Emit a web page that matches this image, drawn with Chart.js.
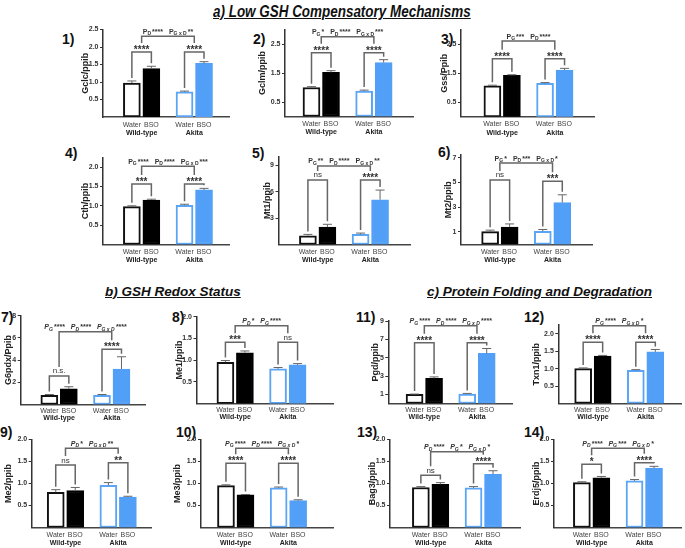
<!DOCTYPE html>
<html>
<head>
<meta charset="utf-8">
<script src="https://cdn.jsdelivr.net/npm/chart.js@4.4.1/dist/chart.umd.min.js"></script>
<style>
  body { margin: 0; background: #fff; }
  #page { position: relative; width: 685px; height: 548px; overflow: hidden; font-family: 'Liberation Sans', Arial, sans-serif; }
  #page canvas { position: absolute; left: 0; top: 0; }
  .head { position: absolute; font-weight: bold; font-style: italic; text-decoration: underline; white-space: nowrap; color: #111; line-height: 1; }
  .num { position: absolute; font-weight: bold; font-size: 14px; color: #111; line-height: 1; }
</style>
</head>
<body>
<div id="page">
  <div class="head" style="left:213px;top:4px;font-size:16px;transform:scaleX(0.84);transform-origin:0 0;">a) Low GSH Compensatory Mechanisms</div>
  <div class="head" style="left:105px;top:285px;font-size:13.5px;">b) GSH Redox Status</div>
  <div class="head" style="left:427px;top:285px;font-size:13.5px;">c) Protein Folding and Degradation</div>
  <div class="num" style="left:62px;top:32px;">1)</div>
  <div class="num" style="left:253px;top:32px;">2)</div>
  <div class="num" style="left:441px;top:32px;">3)</div>
  <div class="num" style="left:65px;top:146px;">4)</div>
  <div class="num" style="left:252px;top:146px;">5)</div>
  <div class="num" style="left:438px;top:145px;">6)</div>
  <div class="num" style="left:1px;top:310px;">7)</div>
  <div class="num" style="left:172px;top:310px;">8)</div>
  <div class="num" style="left:356px;top:310px;">11)</div>
  <div class="num" style="left:524px;top:310px;">12)</div>
  <div class="num" style="left:0px;top:425px;">9)</div>
  <div class="num" style="left:176px;top:425px;">10)</div>
  <div class="num" style="left:357px;top:425px;">13)</div>
  <div class="num" style="left:524px;top:425px;">14)</div>
</div>
<script>
// groups and treatments, same order in every panel
const treatments = ['Water', 'BSO', 'Water', 'BSO'];
const genotypes = ['Wild-type', 'Akita'];

// 1) Gclc
const gclcMean = [0.97, 1.38, 0.72, 1.53];
const gclcSem = [0.06, 0.07, 0.02, 0.05];
const gclcTicks = ['0.5', '1.0', '1.5', '2.0', '2.5'];
const gclcStars = ['****', '****'];
const gclcP = [['D', '****'], ['G x D', '**']];

// 2) Gclm
const gclmMean = [1.00, 1.52, 0.88, 1.86];
const gclmSem = [0.03, 0.06, 0.03, 0.10];
const gclmTicks = ['0.5', '1.5', '2.5'];
const gclmStars = ['****', '****'];
const gclmP = [['G', '*'], ['D', '****'], ['G x D', '***']];

// 3) Gss
const gssMean = [1.07, 1.43, 1.15, 1.61];
const gssSem = [0.02, 0.02, 0.03, 0.06];
const gssTicks = ['0.5', '1.5', '2.5'];
const gssStars = ['****', '****'];
const gssP = [['G', '***'], ['D', '****']];

// 4) Cth
const cthMean = [0.98, 1.15, 1.01, 1.41];
const cthSem = [0.02, 0.02, 0.03, 0.04];
const cthTicks = ['0.5', '1.0', '1.5', '2.0'];
const cthStars = ['***', '****'];
const cthP = [['G', '****'], ['D', '****'], ['G x D', '***']];

// 5) Mt1
const mt1Mean = [1.00, 1.98, 1.15, 5.10];
const mt1Sem = [0.15, 0.32, 0.15, 1.10];
const mt1Ticks = ['3', '6', '9'];
const mt1Stars = ['ns', '****'];
const mt1P = [['G', '**'], ['D', '****'], ['G x D', '**']];

// 6) Mt2
const mt2Mean = [1.03, 1.40, 1.06, 3.37];
const mt2Sem = [0.12, 0.25, 0.14, 0.63];
const mt2Ticks = ['1', '3', '5', '7'];
const mt2Stars = ['ns', '***'];
const mt2P = [['G', '*'], ['D', '***'], ['G x D', '*']];

// 7) G6pdx
const g6pdxMean = [0.83, 1.42, 0.83, 3.20];
const g6pdxSem = [0.07, 0.18, 0.07, 1.10];
const g6pdxTicks = ['2', '4', '6', '8'];
const g6pdxStars = ['n.s.', '****'];
const g6pdxP = [['G', '****'], ['D', '****'], ['G x D', '****']];

// 8) Me1
const me1Mean = [0.95, 1.17, 0.80, 0.89];
const me1Sem = [0.04, 0.04, 0.03, 0.03];
const me1Ticks = ['0.5', '1.0', '1.5', '2.0'];
const me1Stars = ['***', 'ns'];
const me1P = [['D', '*'], ['G', '****']];

// 9) Me2
const me2Mean = [0.80, 0.84, 0.96, 0.69];
const me2Sem = [0.06, 0.07, 0.06, 0.02];
const me2Ticks = ['0.5', '1.0', '1.5', '2.0'];
const me2Stars = ['ns', '**'];
const me2P = [['D', '*'], ['G x D', '**']];

// 10) Me3
const me3Mean = [0.95, 0.74, 0.90, 0.61];
const me3Sem = [0.02, 0.01, 0.02, 0.02];
const me3Ticks = ['0.5', '1.0', '1.5', '2.0'];
const me3Stars = ['****', '****'];
const me3P = [['G', '****'], ['D', '****'], ['G x D', '*']];

// 11) Pgd
const pgdMean = [1.00, 2.75, 1.04, 5.47];
const pgdSem = [0.03, 0.15, 0.06, 0.53];
const pgdTicks = ['1', '3', '5', '7', '9'];
const pgdStars = ['****', '****'];
const pgdP = [['G', '****'], ['D', '****'], ['G x D', '****']];

// 12) Txn1
const txn1Mean = [1.00, 1.36, 0.95, 1.48];
const txn1Sem = [0.02, 0.02, 0.02, 0.07];
const txn1Ticks = ['0.5', '1.0', '1.5', '2.0'];
const txn1Stars = ['****', '****'];
const txn1P = [['G', '****'], ['G x D', '*']];

// 13) Bag3
const bag3Mean = [0.91, 0.98, 0.90, 1.21];
const bag3Sem = [0.02, 0.04, 0.03, 0.08];
const bag3Ticks = ['0.5', '1.0', '1.5', '2.0'];
const bag3Stars = ['ns', '****'];
const bag3P = [['D', '****'], ['G', '*'], ['G x D', '*']];

// 14) Erdj5
const erdj5Mean = [1.02, 1.13, 1.06, 1.35];
const erdj5Sem = [0.02, 0.03, 0.03, 0.04];
const erdj5Ticks = ['0.5', '1.0', '1.5', '2.0'];
const erdj5Stars = ['*', '****'];
const erdj5P = [['D', '****'], ['G', '***'], ['G x D', '*']];

const FONT = "'Liberation Sans', Arial, sans-serif";
const W = 685, H = 548;
const STEP = 26;       // px between the two bars of a group
const GAP = 1.7;       // distance between groups, in bar steps
const XH = 20;         // room kept under the x axis for its labels
const xPos = [1, 2, 2 + GAP, 3 + GAP];
const fills = ['#ffffff', '#000000', '#ffffff', '#529ff7'];
const edges = ['#111111', '#000000', '#5aa5f5', '#529ff7'];

// box = [axis x, pixel of yMax, right end of x axis, baseline]
// sub / top = bracket heights in data units, ylab = offset of y title from the axis
const panels = [
  { name: 'Gclc/ppib', mean: gclcMean, sem: gclcSem, ticks: gclcTicks, stars: gclcStars, p: gclcP, yMax: 2.5,
    box: [103, 29.5, 229, 117], c0: 120.5, ylab: 17, sub: [1.86, 1.86], top: 2.31, lab: [7.5, 16], it: false },
  { name: 'Gclm/ppib', mean: gclmMean, sem: gclmSem, ticks: gclmTicks, stars: gclmStars, p: gclmP, yMax: 3,
    box: [285, 29.5, 413, 116.5], c0: 299, ylab: 22, sub: [2.2, 2.2], top: 2.75, lab: [7.5, 16], it: false },
  { name: 'Gss/Ppib', mean: gssMean, sem: gssSem, ticks: gssTicks, stars: gssStars, p: gssP, yMax: 3,
    box: [461, 29.8, 594, 116.8], c0: 480.7, ylab: 16, sub: [2.0, 2.0], top: 2.61, lab: [7.5, 16], it: false },
  { name: 'Cth/ppib', mean: cthMean, sem: cthSem, ticks: cthTicks, stars: cthStars, p: cthP, yMax: 2.25,
    box: [103, 157.4, 229, 244.5], c0: 120.5, ylab: 17, sub: [1.56, 1.56], top: 2.02, lab: [7.5, 15.5], it: false },
  { name: 'Mt1/ppib', mean: mt1Mean, sem: mt1Sem, ticks: mt1Ticks, stars: mt1Stars, p: mt1P, yMax: 10,
    box: [278.5, 156.7, 410, 244.5], c0: 295.8, ylab: 11, sub: [7.35, 7.35], top: 8.95, lab: [7.5, 15.5], it: false },
  { name: 'Mt2/ppib', mean: mt2Mean, sem: mt2Sem, ticks: mt2Ticks, stars: mt2Stars, p: mt2P, yMax: 7.2,
    box: [461, 155.1, 592, 244.4], c0: 478, ylab: 12, sub: [5.2, 5.1], top: 6.56, lab: [7.5, 15.5], it: false },
  { name: 'G6pdx/Ppib', mean: g6pdxMean, sem: g6pdxSem, ticks: g6pdxTicks, stars: g6pdxStars, p: g6pdxP, yMax: 8,
    box: [20.7, 315.7, 146, 404.5], c0: 38, ylab: 12, sub: [2.57, 4.97], top: 6.56, lab: [6.5, 13.5], it: true },
  { name: 'Me1/ppib', mean: me1Mean, sem: me1Sem, ticks: me1Ticks, stars: me1Stars, p: me1P, yMax: 2,
    box: [196.5, 316.6, 333, 403.6], c0: 212.3, ylab: 16.5, sub: [1.41, 1.41], top: 1.79, lab: [6.5, 13.5], it: true },
  { name: 'Pgd/ppib', mean: pgdMean, sem: pgdSem, ticks: pgdTicks, stars: pgdStars, p: pgdP, yMax: 9,
    box: [388.3, 321, 512, 403.5], c0: 402.7, ylab: 13, sub: [6.63, 6.63], top: 8.48, lab: [6.5, 13.5], it: true },
  { name: 'Txn1/ppib', mean: txn1Mean, sem: txn1Sem, ticks: txn1Ticks, stars: txn1Stars, p: txn1P, yMax: 2.25,
    box: [558.3, 325.1, 681, 403.4], c0: 571, ylab: 21.6, sub: [1.76, 1.76], top: 2.23, lab: [6.5, 13.5], it: true },
  { name: 'Me2/ppib', mean: me2Mean, sem: me2Sem, ticks: me2Ticks, stars: me2Stars, p: me2P, yMax: 2,
    box: [31.7, 439.5, 152, 527.5], c0: 43.7, ylab: 23, sub: [1.42, 1.47], top: 1.8, lab: [7.5, 16], it: true },
  { name: 'Me3/ppib', mean: me3Mean, sem: me3Sem, ticks: me3Ticks, stars: me3Stars, p: me3P, yMax: 2,
    box: [201, 439.5, 333, 527.5], c0: 212.3, ylab: 23, sub: [1.46, 1.46], top: 1.8, lab: [7.5, 16], it: true },
  { name: 'Bag3/ppib', mean: bag3Mean, sem: bag3Sem, ticks: bag3Ticks, stars: bag3Stars, p: bag3P, yMax: 2,
    box: [390, 439.5, 520, 527.5], c0: 409.5, ylab: 17, sub: [1.19, 1.45], top: 1.72, lab: [7.5, 16], it: true },
  { name: 'Erdj5/ppib', mean: erdj5Mean, sem: erdj5Sem, ticks: erdj5Ticks, stars: erdj5Stars, p: erdj5P, yMax: 2,
    box: [554, 439.5, 681, 527.5], c0: 570, ylab: 17, sub: [1.44, 1.47], top: 1.8, lab: [7.5, 16], it: true }
];

// P_x**** labels above the long bracket
function drawPText(ctx, terms, cx, y, italic) {
  const st = italic ? 'italic ' : '';
  const big = st + 'bold 7px ' + FONT, small = st + 'bold 5px ' + FONT;
  const gap = 6;
  const widths = terms.map(t => {
    ctx.font = big; const a = ctx.measureText('P').width + ctx.measureText(t[1]).width;
    ctx.font = small; return a + ctx.measureText(t[0]).width + 1;
  });
  let x = cx - (widths.reduce((s, w) => s + w, 0) + gap * (terms.length - 1)) / 2;
  ctx.textAlign = 'left'; ctx.textBaseline = 'alphabetic'; ctx.fillStyle = '#333';
  terms.forEach(t => {
    ctx.font = big; ctx.fillText('P', x, y); x += ctx.measureText('P').width;
    ctx.font = small; ctx.fillText(t[0], x, y + 1.5); x += ctx.measureText(t[0]).width + 1;
    ctx.font = big; ctx.fillText(t[1], x, y); x += ctx.measureText(t[1]).width + gap;
  });
}

function drawMark(ctx, text, cx, yLine) {
  ctx.textAlign = 'center'; ctx.textBaseline = 'alphabetic'; ctx.fillStyle = '#333';
  if (text.indexOf('*') >= 0) {
    ctx.font = 'bold 10px ' + FONT; ctx.fillText(text, cx, yLine + 1);
  } else {
    ctx.font = '8px ' + FONT; ctx.fillText(text, cx, yLine - 2.5);
  }
}

function extras(p) {
  return {
    id: 'panelExtras',
    afterDatasetsDraw(chart) {
      const ctx = chart.ctx, y = chart.scales.y;
      const bars = chart.getDatasetMeta(0).data;
      ctx.save();
      ctx.strokeStyle = '#666'; ctx.lineWidth = 1;
      bars.forEach((b, i) => {
        const yt = y.getPixelForValue(p.mean[i] + p.sem[i]);
        ctx.beginPath();
        ctx.moveTo(b.x, b.y); ctx.lineTo(b.x, yt);
        ctx.moveTo(b.x - 4.5, yt); ctx.lineTo(b.x + 4.5, yt);
        ctx.stroke();
      });
      ctx.restore();
    },
    afterDraw(chart) {
      const ctx = chart.ctx, y = chart.scales.y;
      const bars = chart.getDatasetMeta(0).data;
      const base = chart.chartArea.bottom;
      ctx.save();
      // group names under the axis
      ctx.font = 'bold 7px ' + FONT; ctx.fillStyle = '#222';
      ctx.textAlign = 'center'; ctx.textBaseline = 'middle';
      genotypes.forEach((g, k) => ctx.fillText(g, (bars[2 * k].x + bars[2 * k + 1].x) / 2, base + p.lab[1]));
      // pairwise brackets
      ctx.strokeStyle = '#666'; ctx.lineWidth = 1.5;
      const subY = [];
      [0, 1].forEach(k => {
        const a = bars[2 * k], b = bars[2 * k + 1];
        const yl = y.getPixelForValue(p.sub[k]);
        subY.push(yl);
        ctx.beginPath();
        ctx.moveTo(a.x, y.getPixelForValue(p.mean[2 * k] + p.sem[2 * k]) - 3);
        ctx.lineTo(a.x, yl); ctx.lineTo(b.x, yl);
        ctx.lineTo(b.x, y.getPixelForValue(p.mean[2 * k + 1] + p.sem[2 * k + 1]) - 3);
        ctx.stroke();
        drawMark(ctx, p.stars[k], (a.x + b.x) / 2, yl);
      });
      // genotype x drug bracket
      const x1 = (bars[0].x + bars[1].x) / 2, x2 = (bars[2].x + bars[3].x) / 2;
      const yt = y.getPixelForValue(p.top);
      ctx.beginPath();
      ctx.moveTo(x1, subY[0] - 9); ctx.lineTo(x1, yt); ctx.lineTo(x2, yt); ctx.lineTo(x2, subY[1] - 9);
      ctx.stroke();
      drawPText(ctx, p.p, (x1 + x2) / 2, yt - 2.5, p.it);
      ctx.restore();
    }
  };
}

const page = document.getElementById('page');

panels.forEach(p => {
  const [axisX, topY, rightX, baseY] = p.box;
  const yW = p.ylab + 5.4;
  const canvas = document.createElement('canvas');
  canvas.width = W; canvas.height = H;
  page.appendChild(canvas);
  new Chart(canvas, {
    type: 'bar',
    data: {
      datasets: [{
        data: p.mean.map((m, i) => ({ x: xPos[i], y: m })),
        backgroundColor: fills,
        borderColor: edges,
        borderWidth: 2,
        borderSkipped: false,
        barThickness: 17
      }]
    },
    options: {
      responsive: false,
      animation: false,
      events: [],
      layout: { padding: { left: axisX - yW, top: topY, right: W - rightX, bottom: H - baseY - XH } },
      plugins: { legend: { display: false }, tooltip: { enabled: false } },
      scales: {
        x: {
          type: 'linear',
          min: 1 - (p.c0 - axisX) / STEP,
          max: 1 + (rightX - p.c0) / STEP,
          afterBuildTicks: s => { s.ticks = xPos.map(v => ({ value: v })); },
          afterFit: s => { s.height = XH; },
          grid: { display: false, drawTicks: false },
          border: { color: '#444', width: 1.5 },
          ticks: {
            autoSkip: false, maxRotation: 0, padding: p.lab[0] - 4,
            callback: (v, i) => treatments[i],
            font: { size: 7, family: FONT }, color: '#444'
          }
        },
        y: {
          min: 0,
          max: p.yMax,
          afterBuildTicks: s => { s.ticks = p.ticks.map(t => ({ value: Number(t) })); },
          afterFit: s => { s.width = yW; },
          grid: { drawOnChartArea: false, tickLength: 3, color: '#333', lineWidth: 1 },
          border: { color: '#333', width: 1.5 },
          ticks: {
            autoSkip: false, padding: 1.5,
            callback: (v, i) => p.ticks[i],
            font: { size: 7, weight: 'bold', family: FONT }, color: '#333'
          },
          title: {
            display: true, text: p.name, padding: 0,
            font: { size: 9, weight: 'bold', family: FONT }, color: '#222'
          }
        }
      }
    },
    plugins: [extras(p)]
  });
});
</script>
</body>
</html>
